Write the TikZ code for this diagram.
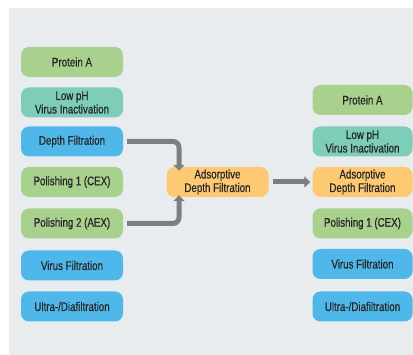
\documentclass[tikz,border=0pt]{standalone}
\usepackage{fontspec}
\setmainfont{Liberation Sans}[FakeStretch=0.78, FakeBold=0.6]
\usetikzlibrary{arrows.meta}
\definecolor{bgpanel}{HTML}{E9ECEF}
\definecolor{cgreen}{HTML}{A9D18E}
\definecolor{cteal}{HTML}{7ECDB8}
\definecolor{cblue}{HTML}{4FB7E9}
\definecolor{corange}{HTML}{FDC972}
\definecolor{carrow}{HTML}{7C7E82}
\definecolor{ctext}{HTML}{262626}
\tikzset{
  stepbox/.style={rounded corners=8pt, minimum width=102pt, minimum height=30pt,
    inner sep=1pt, align=center, text=ctext, font=\fontsize{12.5}{13.5}\selectfont},
  gbox/.style={stepbox, fill=cgreen},
  tbox/.style={stepbox, fill=cteal},
  bbox/.style={stepbox, fill=cblue},
  obox/.style={stepbox, fill=corange},
  flow/.style={draw=carrow, line width=5pt, rounded corners=6pt,
    -{Triangle[width=11pt,length=6pt]}}
}
\begin{document}
\begin{tikzpicture}[x=1pt,y=-1pt]
\useasboundingbox (0,0) rectangle (413,355);
\fill[white] (0,0) rectangle (413,355);
\fill[bgpanel] (9,8) rectangle (413,355);
% left column
\node[gbox] (l1) at (72,62) {Protein A};
\node[tbox] (l2) at (72,102.5) {Low pH\\Virus Inactivation};
\node[bbox] (l3) at (72,141.5) {Depth Filtration};
\node[gbox] (l4) at (72,182) {Polishing 1 (CEX)};
\node[gbox] (l5) at (72,223.5) {Polishing 2 (AEX)};
\node[bbox] (l6) at (72,265.5) {Virus Filtration};
\node[bbox] (l7) at (72,306.5) {Ultra-/Diafiltration};
% middle
\node[obox] (m) at (217.5,182) {Adsorptive\\Depth Filtration};
% right column
\node[gbox, minimum width=100pt] (r1) at (362.5,100) {Protein A};
\node[tbox, minimum width=100pt] (r2) at (362.5,141.5) {Low pH\\Virus Inactivation};
\node[obox, minimum width=100pt] (r3) at (362.5,182) {Adsorptive\\Depth Filtration};
\node[gbox, minimum width=100pt] (r4) at (362.5,223.5) {Polishing 1 (CEX)};
\node[bbox, minimum width=100pt] (r5) at (362.5,264) {Virus Filtration};
\node[bbox, minimum width=100pt] (r6) at (362.5,306.5) {Ultra-/Diafiltration};
% arrows
\coordinate (c1) at (179,141.5);
\coordinate (c2) at (179,223.5);
\draw[flow, shorten <=4pt] (l3.east) -- (c1) -- ([xshift=-38.5pt,yshift=-4pt]m.north);
\draw[flow, shorten <=4pt] (l5.east) -- (c2) -- ([xshift=-38.5pt,yshift=2pt]m.south);
\draw[flow, rounded corners=0pt, shorten <=4pt, shorten >=2pt] (m.east) -- (r3.west);
\end{tikzpicture}
\end{document}
